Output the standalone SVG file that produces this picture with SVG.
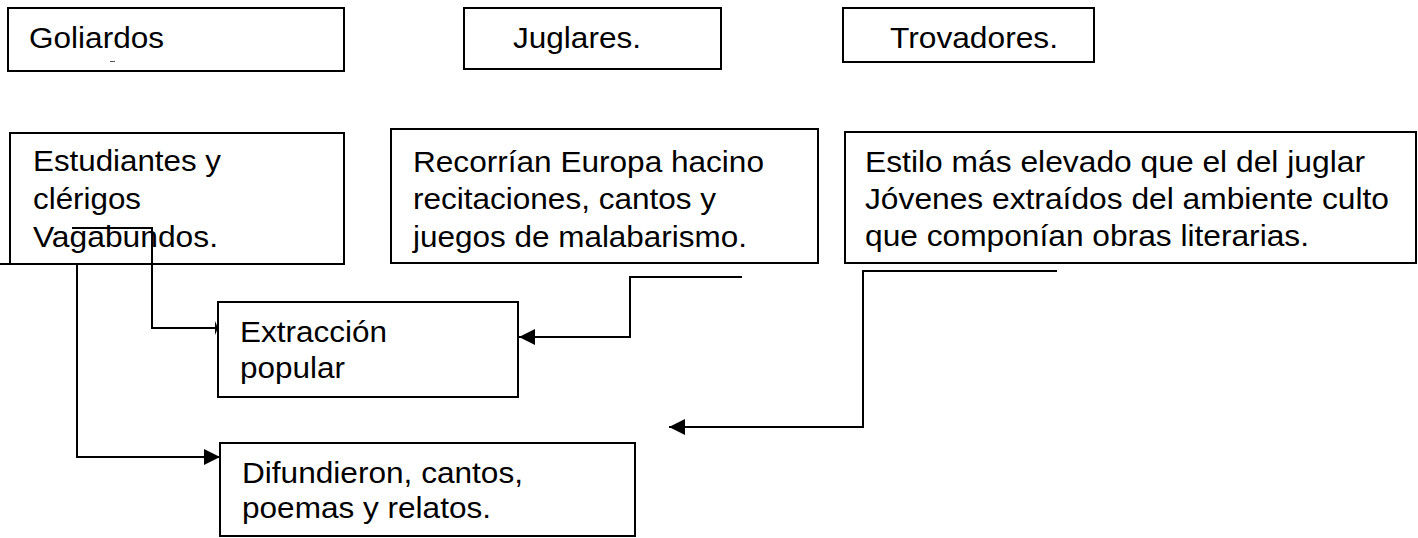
<svg xmlns="http://www.w3.org/2000/svg" width="1418" height="538" viewBox="0 0 1418 538">
  <style>
    .box { fill: #ffffff; stroke: #000000; stroke-width: 2; }
    .lbl { font-family: "Liberation Sans", Arial, sans-serif; font-size: 29px; fill: #000000; }
    .conn { fill: none; stroke: #000000; stroke-width: 2; }
  </style>
  <defs>
    <marker id="arr" markerWidth="16" markerHeight="16" refX="16" refY="8" orient="auto" markerUnits="userSpaceOnUse">
      <path d="M0,0 L16,8 L0,16 z" fill="#000000"/>
    </marker>
    <marker id="tick" markerWidth="4" markerHeight="14" refX="3" refY="7" orient="auto" markerUnits="userSpaceOnUse">
      <path d="M0,0 L3,7 L0,14 z" fill="#000000"/>
    </marker>
  </defs>
  <rect width="1418" height="538" fill="#ffffff"/>

  <g id="goliardos">
    <rect class="box" x="8" y="8" width="336" height="63"/>
    <text class="lbl" x="29" y="48" textLength="135" lengthAdjust="spacingAndGlyphs">Goliardos</text>
    <line x1="110" y1="61.5" x2="115" y2="61.5" stroke="#555555" stroke-width="1"/>
  </g>
  <g id="juglares">
    <rect class="box" x="464" y="8" width="257" height="61"/>
    <text class="lbl" x="513" y="48" textLength="128" lengthAdjust="spacingAndGlyphs">Juglares.</text>
  </g>
  <g id="trovadores">
    <rect class="box" x="843" y="8" width="251" height="54"/>
    <text class="lbl" x="890" y="48" textLength="168" lengthAdjust="spacingAndGlyphs">Trovadores.</text>
  </g>

  <g id="estudiantes">
    <rect class="box" x="10" y="133" width="334" height="131"/>
    <text class="lbl" x="33" y="171" textLength="188" lengthAdjust="spacingAndGlyphs">Estudiantes y</text>
    <text class="lbl" x="33" y="209" textLength="108" lengthAdjust="spacingAndGlyphs">clérigos</text>
    <text class="lbl" x="33" y="247" textLength="185" lengthAdjust="spacingAndGlyphs">Vagabundos.</text>
  </g>
  <g id="recorrian">
    <rect class="box" x="391" y="129" width="427" height="134"/>
    <text class="lbl" x="413" y="172" textLength="351" lengthAdjust="spacingAndGlyphs">Recorrían Europa hacino</text>
    <text class="lbl" x="413" y="209" textLength="303" lengthAdjust="spacingAndGlyphs">recitaciones, cantos y</text>
    <text class="lbl" x="413" y="247" textLength="334" lengthAdjust="spacingAndGlyphs">juegos de malabarismo.</text>
  </g>
  <g id="estilo">
    <rect class="box" x="845" y="132" width="571" height="131"/>
    <text class="lbl" x="865" y="172" textLength="500" lengthAdjust="spacingAndGlyphs">Estilo más elevado que el del juglar</text>
    <text class="lbl" x="865" y="209" textLength="524" lengthAdjust="spacingAndGlyphs">Jóvenes extraídos del ambiente culto</text>
    <text class="lbl" x="865" y="246" textLength="444" lengthAdjust="spacingAndGlyphs">que componían obras literarias.</text>
  </g>

  <g id="extraccion">
    <rect class="box" x="218" y="302" width="300" height="95"/>
    <text class="lbl" x="240" y="342" textLength="147" lengthAdjust="spacingAndGlyphs">Extracción</text>
    <text class="lbl" x="240" y="378" textLength="105" lengthAdjust="spacingAndGlyphs">popular</text>
  </g>
  <g id="difundieron">
    <rect class="box" x="220" y="443" width="415" height="93"/>
    <text class="lbl" x="242" y="483" textLength="281" lengthAdjust="spacingAndGlyphs">Difundieron, cantos,</text>
    <text class="lbl" x="242" y="518" textLength="249" lengthAdjust="spacingAndGlyphs">poemas y relatos.</text>
  </g>

  <g id="connectors">
    <path class="conn" d="M0,264 H77 V457 H220" marker-end="url(#arr)"/>
    <path class="conn" d="M72,228 H152 V328 H218" marker-end="url(#tick)"/>
    <path class="conn" d="M742,277 H630 V337 H519" marker-end="url(#arr)"/>
    <path class="conn" d="M1057,271 H863 V427 H669" marker-end="url(#arr)"/>
  </g>
</svg>
